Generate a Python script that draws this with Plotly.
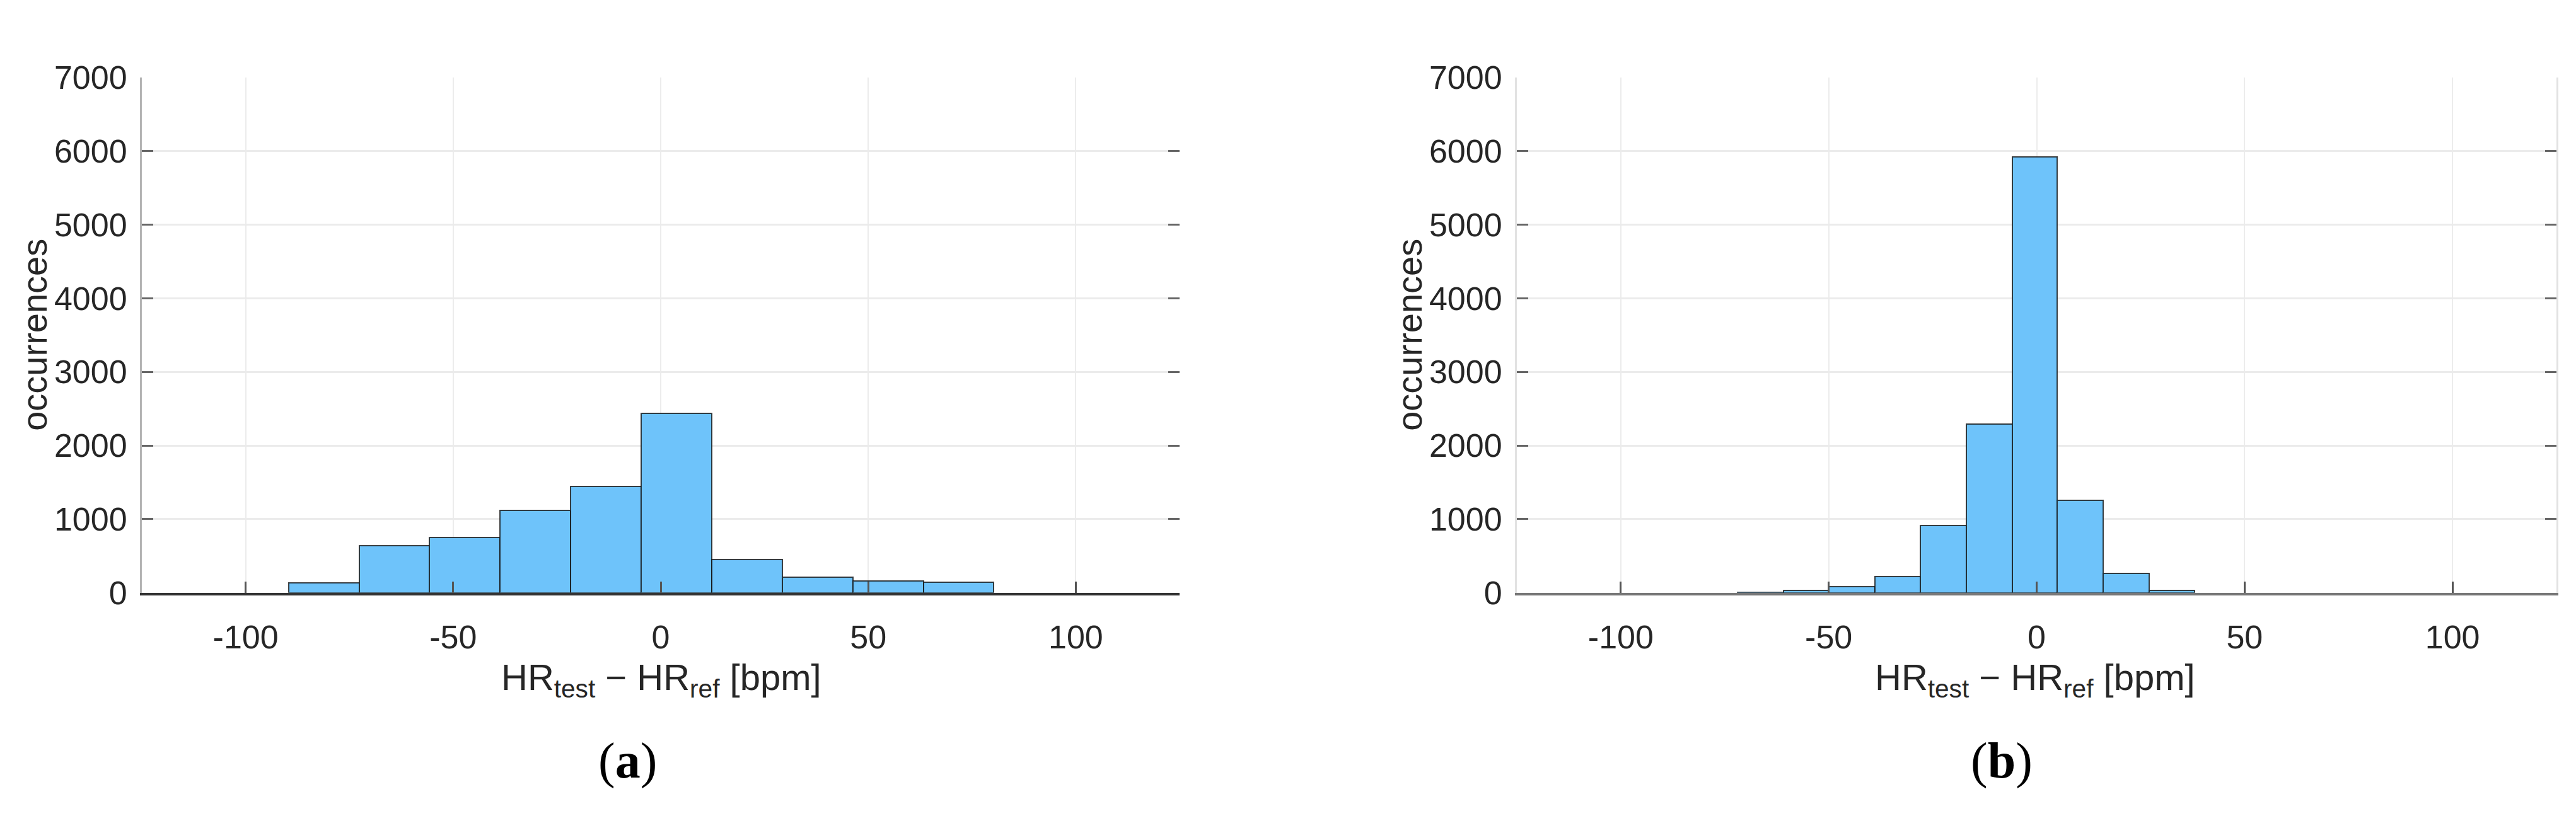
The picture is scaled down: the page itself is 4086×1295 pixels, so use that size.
import numpy as np
import plotly.graph_objects as go

# bin edges and counts
edges_a = [-89.6, -72.6, -55.7, -38.7, -21.7, -4.7, 12.3, 29.3, 46.3, 63.3, 80.2]
counts_a = [130, 640, 747, 1120, 1448, 2435, 453, 215, 160, 142]

edges_b = [-71.9, -60.9, -49.9, -38.9, -27.9, -16.9, -5.9, 5.0, 16.0, 27.0, 38.0]
counts_b = [8, 33, 85, 218, 912, 2295, 5925, 1258, 262, 34]

x_ticks = [-100, -50, 0, 50, 100]
x_tick_text = ["-100", "-50", "0", "50", "100"]
y_ticks = [0, 1000, 2000, 3000, 4000, 5000, 6000, 7000]

panel_labels = ["a", "b"]
x_label = "HR<sub>test</sub> \u2212 HR<sub>ref</sub> [bpm]"
y_label = "occurrences"

W, H = 4086, 1295
FILL = "rgb(110,195,250)"
TXT = "#262626"
FONT = "Liberation Sans, Arial"


def bars(edges, counts, xa, ya):
    e = np.array(edges)
    return go.Bar(x=(e[:-1] + e[1:]) / 2, y=counts, width=np.diff(e),
                  marker=dict(color=FILL, line=dict(color="rgba(20,20,20,0.8)", width=2)),
                  xaxis=xa, yaxis=ya, showlegend=False)


fig = go.Figure()
fig.add_trace(bars(edges_a, counts_a, "x", "y"))
fig.add_trace(bars(edges_b, counts_b, "x2", "y2"))

dom_y = [1 - 946 / H, 1 - 90 / H]
doms_x = [[217 / W, 1863 / W], [2398 / W, 4047 / W]]
ylines = ["#b4b4b4", "#e2e2e2"]
xlines = ["#333333", "#777777"]

ax = {}
for i, (dx, yl, xl) in enumerate(zip(doms_x, ylines, xlines)):
    s = "" if i == 0 else str(i + 1)
    ax["xaxis" + s] = dict(domain=dx, anchor="y" + s, range=[-125, 125],
                           tickvals=x_ticks, ticktext=x_tick_text,
                           ticks="inside", ticklen=18, tickwidth=3,
                           tickcolor="#555555", showline=True, linecolor=xl, linewidth=4,
                           showgrid=True, gridcolor="#ececec", gridwidth=2, zeroline=False,
                           tickfont=dict(family=FONT, size=52, color=TXT),
                           ticklabelstandoff=22)
    ax["yaxis" + s] = dict(domain=dom_y, anchor="x" + s, range=[0, 7000],
                           tickvals=y_ticks, ticks="inside", ticklen=18, tickwidth=3,
                           tickcolor="#666666", showline=True, linecolor=yl, linewidth=3,
                           mirror="ticks" if i == 1 else False,
                           showgrid=True, gridcolor="#ebebeb", gridwidth=3, zeroline=False,
                           tickfont=dict(family=FONT, size=52, color=TXT),
                           ticklabelstandoff=10)

# right-hand tick marks of panel (a), without a box line
ax["yaxis3"] = dict(domain=dom_y, overlaying="y", side="right", anchor="x", range=[0, 7000],
                    tickvals=y_ticks, ticks="inside", ticklen=18, tickwidth=3,
                    tickcolor="#666666", showline=False, showgrid=False, zeroline=False,
                    showticklabels=False)
fig.add_trace(go.Bar(x=[None], y=[None], xaxis="x", yaxis="y3", showlegend=False,
                     hoverinfo="skip"))

fig.update_layout(width=W, height=H, margin=dict(l=0, r=0, t=0, b=0),
                  paper_bgcolor="white", plot_bgcolor="white", bargap=0, **ax)

xlab_cx = [1041, 3220]
ylab_cx = [47, 2228]
tag_cx = [987, 3167]
for i in range(2):
    fig.add_annotation(x=xlab_cx[i] / W, y=1 - 1050 / H, xref="paper", yref="paper",
                       xanchor="center", yanchor="top", showarrow=False, text=x_label,
                       font=dict(family=FONT, size=58, color=TXT))
    fig.add_annotation(x=ylab_cx[i] / W, y=1 - 518 / H, xref="paper", yref="paper",
                       xanchor="center", yanchor="middle", showarrow=False, text=y_label,
                       textangle=-90,
                       font=dict(family=FONT, size=56, color=TXT))
    fig.add_annotation(x=tag_cx[i] / W, y=1 - 1225 / H, xref="paper", yref="paper",
                       xanchor="center", yanchor="middle", showarrow=False,
                       text="(<b>" + panel_labels[i] + "</b>)",
                       font=dict(family="Liberation Serif, Times New Roman", size=80, color="black"))

fig.write_html("out.html")
